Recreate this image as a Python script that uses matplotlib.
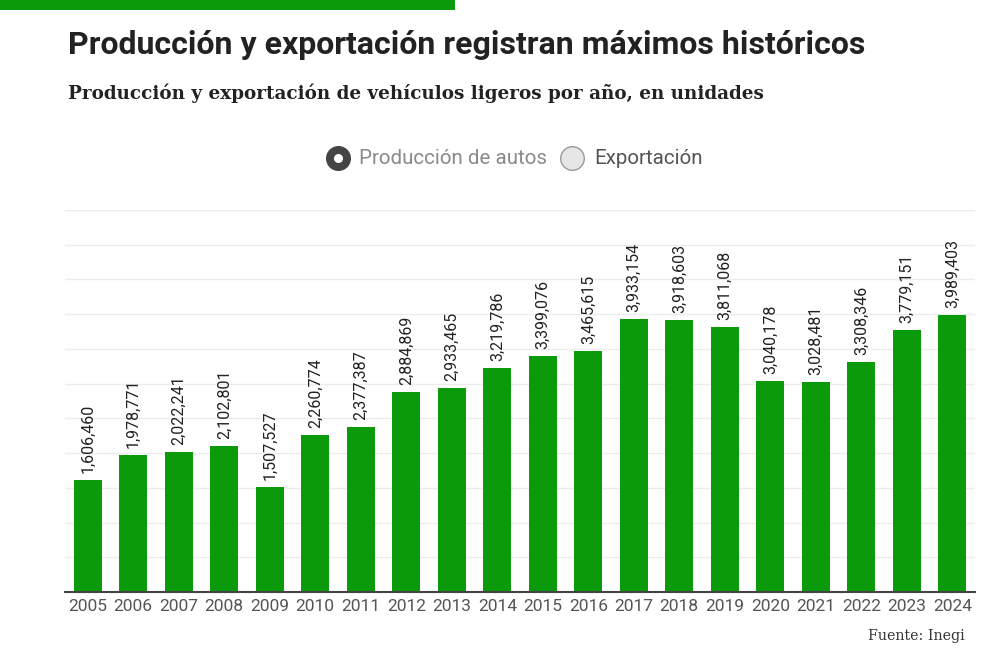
import matplotlib
matplotlib.use("Agg")
import matplotlib.pyplot as plt
from matplotlib.patches import Rectangle

# datos: produccion de vehiculos ligeros (INEGI)
years = [str(y) for y in range(2005, 2025)]
produccion = [1606460, 1978771, 2022241, 2102801, 1507527, 2260774, 2377387,
              2884869, 2933465, 3219786, 3399076, 3465615, 3933154, 3918603,
              3811068, 3040178, 3028481, 3308346, 3779151, 3989403]

green = '#0a9a0a'

fig = plt.figure(figsize=(10, 6.66), dpi=100)
fig.patch.set_facecolor('white')

# barra verde superior
fig.patches.append(Rectangle((0, 1 - 10/666), 0.455, 10/666, transform=fig.transFigure,
                             facecolor=green, edgecolor='none'))

fig.text(0.068, 1 - 45/666, 'Producción y exportación registran máximos históricos',
         fontsize=23, fontweight='bold', family='Roboto', color='#222222', va='center')
fig.text(0.068, 1 - 93/666, 'Producción y exportación de vehículos ligeros por año, en unidades',
         fontsize=13.2, fontweight='bold', family='DejaVu Serif', color='#222222', va='center')

# leyenda tipo botones
ly = 1 - 158/666
fig.add_artist(plt.Line2D([0.338], [ly], marker='o', ms=17, mfc='#444444', mec='#444444',
                          transform=fig.transFigure))
fig.add_artist(plt.Line2D([0.338], [ly], marker='o', ms=5.5, mfc='white', mec='white',
                          transform=fig.transFigure))
fig.text(0.359, ly, 'Producción de autos', fontsize=14.8, family='Roboto', color='#8a8a8a', va='center')
fig.add_artist(plt.Line2D([0.572], [ly], marker='o', ms=17, mfc='#e6e6e6', mec='#9a9a9a', mew=1,
                          transform=fig.transFigure))
fig.text(0.594, ly, 'Exportación', fontsize=14.8, family='Roboto', color='#555555', va='center')

ax = fig.add_axes([0.065, 1 - 592/666, 0.91, (592 - 210)/666])
x = range(len(years))
ax.bar(x, produccion, width=0.61, color=green, zorder=2)
ax.set_xlim(-0.5, len(years) - 0.5)
ax.set_ylim(0, 5500000)
ax.set_yticks(range(0, 5500001, 500000))
ax.yaxis.grid(True, color='#ececec', lw=1, zorder=0)
ax.tick_params(axis='y', left=False, labelleft=False)
ax.set_xticks(list(x))
ax.set_xticklabels(years, fontsize=12.5, family='Roboto', color='#555555')
ax.tick_params(axis='x', length=0, pad=5)
for s in ['top', 'right', 'left']:
    ax.spines[s].set_visible(False)
ax.spines['bottom'].set_color('#444444')
ax.spines['bottom'].set_linewidth(1.5)

for i, v in enumerate(produccion):
    ax.text(i, v + 100000, f'{v:,}', rotation=90, ha='center', va='bottom',
            fontsize=11.5, family='Roboto', color='#222222')

fig.text(0.965, 1 - 636/666, 'Fuente: Inegi', fontsize=10.2, family='DejaVu Serif',
         color='#333333', ha='right', va='center')

fig.savefig('out.png', dpi=100)
